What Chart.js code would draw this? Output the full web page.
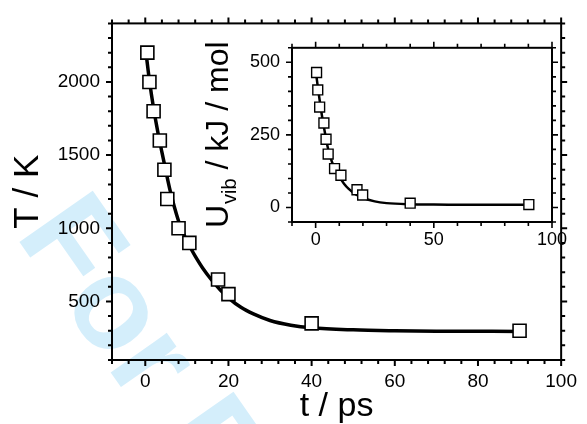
<!DOCTYPE html>
<html><head><meta charset="utf-8">
<script src="https://cdn.jsdelivr.net/npm/chart.js@4.4.0/dist/chart.umd.min.js"></script>
<style>
html,body{margin:0;padding:0;background:#fff;}
#wrap{position:relative;width:587px;height:424px;overflow:hidden;}
#main{position:absolute;left:0;top:0;}
#inset{position:absolute;left:190px;top:25px;}
</style></head><body>
<div id="wrap">
<canvas id="main" width="587" height="424"></canvas>
<canvas id="inset" width="390" height="230"></canvas>
</div>
<script>
// ---- data ----
const timePoints   = [0.5, 1, 2, 3.5, 4.6, 5.3, 8, 10.6, 17.5, 20, 40, 90];
const temperature  = [2200, 2000, 1800, 1600, 1400, 1200, 1000, 900, 650, 550, 350, 300];
const fitTime      = [0.3, 1, 2, 3, 4, 5, 6, 7, 8, 9, 10, 11, 12, 14, 16, 18, 20, 23, 26, 30, 35, 40, 50, 60, 70, 80, 90];
const fitTemperature = [2170, 2010, 1820, 1660, 1520, 1385, 1255, 1145, 1050, 975, 915, 860, 810, 720, 645, 580, 525, 460, 415, 370, 338, 320, 306, 300, 297, 296, 295];
const insetTime    = [0.4, 0.9, 1.7, 3.5, 4.4, 5.3, 8, 10.7, 17.5, 19.9, 40, 90.2];
const vibEnergy    = [465, 405, 346, 291, 235, 184, 134, 111, 61, 43, 15, 10];
const insetFitTime = [0.3, 1, 2, 3, 4, 5, 6, 7, 8, 10, 12, 14, 17, 20, 25, 30, 40, 50, 60, 70, 80, 90];
const insetFitEnergy = [455, 410, 352, 300, 255, 212, 180, 155, 135, 106, 82, 64, 45, 33, 21, 15, 11, 10, 9.5, 9, 9, 9];
const mainXTicks  = [0, 20, 40, 60, 80, 100];
const mainYTicks  = [500, 1000, 1500, 2000];
const insetXTicks = [0, 50, 100];
const insetYTicks = [0, 250, 500];

const FONT = "'Liberation Sans', Arial, Helvetica, sans-serif";
const pts = (xs, ys) => xs.map((x, i) => ({x: x, y: ys[i]}));
const plain = v => String(v);

function frameTicks(cfg) {
  return {
    id: 'frameTicks',
    afterDraw(chart) {
      const ctx = chart.ctx, a = chart.chartArea;
      const xs = chart.scales.x, ys = chart.scales.y;
      ctx.save();
      ctx.strokeStyle = '#000';
      ctx.lineCap = 'square';
      ctx.lineWidth = cfg.lw;
      ctx.strokeRect(a.left, a.top, a.right - a.left, a.bottom - a.top);
      ctx.lineWidth = cfg.tw;
      ctx.lineCap = 'butt';
      const isMajor = (v, m) => Math.abs(v / m - Math.round(v / m)) < 1e-6;
      for (let v = xs.min; v <= xs.max + 1e-9; v += cfg.xMinor) {
        const L = isMajor(v, cfg.xMajor) ? cfg.maj : cfg.min;
        const p = xs.getPixelForValue(v);
        ctx.beginPath();
        ctx.moveTo(p, a.bottom); ctx.lineTo(p, a.bottom + L);
        ctx.moveTo(p, a.top); ctx.lineTo(p, a.top - L);
        ctx.stroke();
      }
      for (let v = ys.min; v <= ys.max + 1e-9; v += cfg.yMinor) {
        const L = isMajor(v, cfg.yMajor) ? cfg.maj : cfg.min;
        const p = ys.getPixelForValue(v);
        ctx.beginPath();
        ctx.moveTo(a.left, p); ctx.lineTo(a.left - L, p);
        ctx.moveTo(a.right, p); ctx.lineTo(a.right + L, p);
        ctx.stroke();
      }
      ctx.restore();
    }
  };
}

const watermark = {
  id: 'watermark',
  beforeDraw(chart) {
    const ctx = chart.ctx;
    ctx.save();
    ctx.fillStyle = '#fff';
    ctx.fillRect(0, 0, chart.width, chart.height);
    ctx.translate(14.5, 235);
    ctx.rotate(55 * Math.PI / 180);
    ctx.font = 'bold 130px ' + FONT;
    ctx.fillStyle = '#d4eefb';
    ctx.textBaseline = 'alphabetic';
    ctx.fillText('For Peer Review', 0, 0);
    ctx.restore();
  }
};

const insetTitle = {
  id: 'insetTitle',
  afterDraw(chart) {
    const ctx = chart.ctx;
    ctx.save();
    ctx.translate(38, 203);
    ctx.rotate(-Math.PI / 2);
    ctx.fillStyle = '#000';
    ctx.textAlign = 'left';
    ctx.textBaseline = 'alphabetic';
    ctx.font = '32px ' + FONT;
    ctx.fillText('U', 0, 0);
    let w = ctx.measureText('U').width;
    ctx.font = '20px ' + FONT;
    ctx.fillText('vib', w + 1, 8);
    w += 1 + ctx.measureText('vib').width;
    ctx.font = '32px ' + FONT;
    ctx.fillText(' / kJ / mol', w, 0);
    ctx.restore();
  }
};

function tickList(arr) { return s => { s.ticks = arr.map(v => ({value: v})); }; }

new Chart(document.getElementById('main'), {
  type: 'scatter',
  data: {
    datasets: [
      { data: pts(timePoints, temperature), pointStyle: 'rect', pointRadius: 9.2,
        pointBackgroundColor: '#fff', pointBorderColor: '#000', pointBorderWidth: 1.6, showLine: false },
      { data: pts(fitTime, fitTemperature), showLine: true, pointRadius: 0, borderColor: '#000',
        borderWidth: 3.5, cubicInterpolationMode: 'monotone', fill: false }
    ]
  },
  options: {
    responsive: false, animation: false,
    layout: { padding: { left: 0, top: 19, right: 17, bottom: 0 } },
    plugins: { legend: { display: false }, tooltip: { enabled: false } },
    scales: {
      x: { type: 'linear', min: -8, max: 100, position: 'bottom',
        afterBuildTicks: tickList(mainXTicks), afterFit: s => { s.height = 64; },
        grid: { display: false, drawTicks: false }, border: { display: false },
        ticks: { font: { family: FONT, size: 19 }, color: '#000', padding: 10, maxRotation: 0, autoSkip: false, callback: plain },
        title: { display: true, text: 't / ps', font: { family: FONT, size: 34 }, color: '#000', padding: { top: 0, bottom: -3 } } },
      y: { type: 'linear', min: 100, max: 2400, position: 'left',
        afterBuildTicks: tickList(mainYTicks), afterFit: s => { s.width = 112; },
        grid: { display: false, drawTicks: false }, border: { display: false },
        ticks: { font: { family: FONT, size: 19 }, color: '#000', padding: 12, autoSkip: false, callback: plain },
        title: { display: true, text: 'T / K', font: { family: FONT, size: 35 }, color: '#000', padding: { top: 7, bottom: 0 } } }
    }
  },
  plugins: [watermark, frameTicks({ lw: 2, tw: 2, maj: 6, min: 4, xMinor: 4, xMajor: 20, yMinor: 100, yMajor: 500 })]
});

new Chart(document.getElementById('inset'), {
  type: 'scatter',
  data: {
    datasets: [
      { data: pts(insetTime, vibEnergy), pointStyle: 'rect', pointRadius: 7,
        pointBackgroundColor: '#fff', pointBorderColor: '#000', pointBorderWidth: 1.4, showLine: false },
      { data: pts(insetFitTime, insetFitEnergy), showLine: true, pointRadius: 0, borderColor: '#000',
        borderWidth: 2.5, cubicInterpolationMode: 'monotone', fill: false }
    ]
  },
  options: {
    responsive: false, animation: false,
    layout: { padding: { left: 0, top: 10, right: 28, bottom: 0 } },
    plugins: { legend: { display: false }, tooltip: { enabled: false } },
    scales: {
      x: { type: 'linear', min: -10, max: 100, position: 'bottom',
        afterBuildTicks: tickList(insetXTicks), afterFit: s => { s.height = 33; },
        grid: { display: false, drawTicks: false }, border: { display: false },
        ticks: { font: { family: FONT, size: 18 }, color: '#000', padding: 7, maxRotation: 0, autoSkip: false, callback: plain } },
      y: { type: 'linear', min: -50, max: 550, position: 'left',
        afterBuildTicks: tickList(insetYTicks), afterFit: s => { s.width = 102; },
        grid: { display: false, drawTicks: false }, border: { display: false },
        ticks: { font: { family: FONT, size: 18 }, color: '#000', padding: 12, autoSkip: false, callback: plain } }
    }
  },
  plugins: [insetTitle, frameTicks({ lw: 2, tw: 1.6, maj: 6, min: 4, xMinor: 10, xMajor: 50, yMinor: 50, yMajor: 250 })]
});
</script>
</body></html>
